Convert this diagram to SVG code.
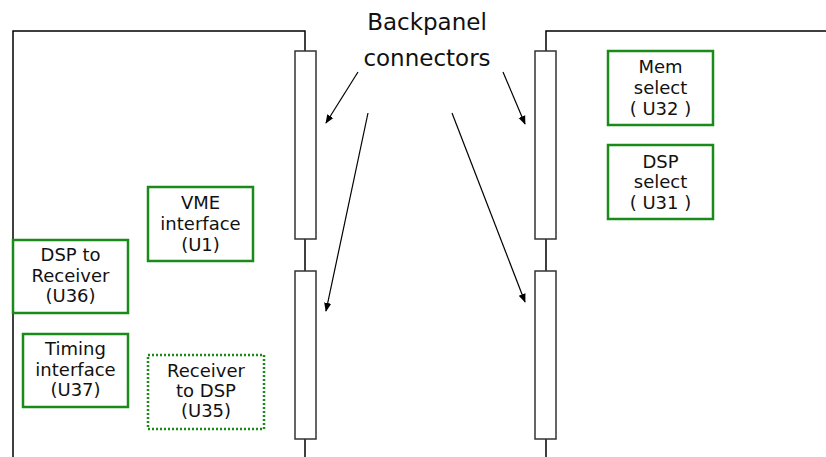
<svg xmlns="http://www.w3.org/2000/svg" width="826" height="457" viewBox="0 0 826 457">
  <style>
    .board { fill: none; stroke: #000; stroke-width: 1.5; }
    .conn { fill: #fff; stroke: #333; stroke-width: 1.5; }
    .chip { fill: #fff; stroke: #1a8a1a; stroke-width: 2.5; }
    .chip.dotted { stroke-dasharray: 2 2; }
    .lbl { font-family: "DejaVu Sans", "Liberation Sans", sans-serif; font-size: 18px; fill: #111; text-anchor: middle; }
    .title { font-family: "DejaVu Sans", "Liberation Sans", sans-serif; font-size: 23px; fill: #111; text-anchor: middle; }
    .arrow { stroke: #000; stroke-width: 1.2; fill: none; marker-end: url(#head); }
  </style>
  <defs>
    <marker id="head" viewBox="0 0 10 10" refX="9" refY="5" markerWidth="9" markerHeight="9" markerUnits="userSpaceOnUse" orient="auto">
      <path d="M0,1 L10,5 L0,9 Z" fill="#000"/>
    </marker>
  </defs>
  <rect width="826" height="457" fill="#fff"/>

  <!-- left board outline -->
  <g id="left-board">
    <path class="board" d="M13,457 V31 H305 V51"/>
    <path class="board" d="M305,239 V271 M305,439 V457"/>
    <rect class="conn" x="295" y="51" width="21" height="188"/>
    <rect class="conn" x="295" y="271" width="21" height="168"/>
  </g>

  <!-- right board outline -->
  <g id="right-board">
    <path class="board" d="M826,31 H546 V51"/>
    <path class="board" d="M546,239 V271 M546,439 V457"/>
    <rect class="conn" x="535" y="51" width="21" height="188"/>
    <rect class="conn" x="535" y="271" width="21" height="168"/>
  </g>

  <g id="title">
    <text class="title" x="427" y="30">Backpanel</text>
    <text class="title" x="427" y="66">connectors</text>
  </g>

  <g id="vme">
    <rect class="chip" x="148" y="187" width="105" height="74"/>
    <text class="lbl" x="200.5" y="209">VME</text>
    <text class="lbl" x="200.5" y="230">interface</text>
    <text class="lbl" x="200.5" y="251">(U1)</text>
  </g>

  <g id="dsp-to-receiver">
    <rect class="chip" x="13" y="240" width="115" height="73"/>
    <text class="lbl" x="70.5" y="261">DSP to</text>
    <text class="lbl" x="70.5" y="282">Receiver</text>
    <text class="lbl" x="70.5" y="302">(U36)</text>
  </g>

  <g id="timing">
    <rect class="chip" x="23" y="334" width="105" height="73"/>
    <text class="lbl" x="75.5" y="355">Timing</text>
    <text class="lbl" x="75.5" y="376">interface</text>
    <text class="lbl" x="75.5" y="396">(U37)</text>
  </g>

  <g id="receiver-to-dsp">
    <rect class="chip dotted" x="148" y="355" width="116" height="74"/>
    <text class="lbl" x="206" y="377">Receiver</text>
    <text class="lbl" x="206" y="397">to DSP</text>
    <text class="lbl" x="206" y="417">(U35)</text>
  </g>

  <g id="mem-select">
    <rect class="chip" x="608" y="51" width="105" height="74"/>
    <text class="lbl" x="660.5" y="73">Mem</text>
    <text class="lbl" x="660.5" y="94">select</text>
    <text class="lbl" x="660.5" y="115">( U32 )</text>
  </g>

  <g id="dsp-select">
    <rect class="chip" x="608" y="145" width="105" height="74"/>
    <text class="lbl" x="660.5" y="168">DSP</text>
    <text class="lbl" x="660.5" y="188">select</text>
    <text class="lbl" x="660.5" y="209">( U31 )</text>
  </g>

  <!-- pointers from the title to each connector -->
  <g id="connectors">
    <line class="arrow" x1="358" y1="72" x2="326" y2="123"/>
    <line class="arrow" x1="368" y1="113" x2="326" y2="311"/>
    <line class="arrow" x1="503" y1="72" x2="525" y2="124"/>
    <line class="arrow" x1="452" y1="113" x2="525" y2="302"/>
  </g>
</svg>
